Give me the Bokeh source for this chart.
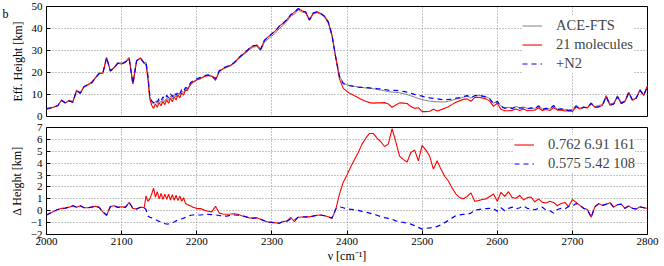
import numpy as np
from bokeh.plotting import figure
from bokeh.models import (ColumnDataSource, Legend, LegendItem, FixedTicker, Label,
                          CustomJSTickFormatter, Range1d)
from bokeh.layouts import column
from bokeh.embed import file_html
from bokeh.resources import INLINE

# ---------------- data ----------------
wavenumber = np.concatenate([np.arange(2000, 2130, 5.0),
                             np.arange(2130, 2200, 2.5),
                             np.arange(2200, 2801, 5.0)])

ace_fts = [
    3.2, 3.7, 4.3, 5.0, 7.6, 6.3, 7.4, 6.9, 12.0, 11.0, 13.8, 14.6, 15.6, 17.8, 19.8, 19.6,
    26.5, 21.0, 22.5, 24.5, 24.2, 25.0, 27.0, 15.0, 25.5, 26.8,
    24.5, 24.8, 18.0, 9.0, 6.5, 5.6, 6.8, 5.8, 7.4, 6.3, 7.9, 6.8, 8.5, 7.4, 9.2, 8.0,
    9.9, 8.8, 10.7, 9.7, 11.6, 10.8, 12.6, 12.4, 14.0, 15.2, 15.8, 16.3,
    16.8, 17.4, 18.2, 18.6, 18.3, 16.8, 20.4, 21.5, 22.3, 23.0, 24.2, 26.0, 27.5, 28.8, 30.3, 31.5,
    31.8, 29.8, 33.7, 35.2, 36.6, 38.0, 40.0, 41.5, 43.2, 45.5, 46.5, 48.5, 47.5, 47.0, 43.5, 46.6,
    47.2, 46.5, 45.2, 42.5, 36.5, 27.0, 18.5, 15.2,
    14.4, 14.0, 13.7, 13.4, 13.2, 13.0, 12.8, 12.6, 12.3, 12.0, 11.7, 11.3, 11.1, 11.0, 10.8, 10.4,
    10.0, 9.4, 8.8, 8.2,
    7.7, 7.3, 7.0, 6.8, 6.7, 6.6, 6.6, 6.9, 7.4, 7.9, 8.2, 8.8, 9.2, 8.4, 9.5, 9.6, 9.4, 9.0, 8.2, 6.0,
    6.8, 4.8, 3.8, 4.2, 3.9, 4.5, 4.0, 4.3, 3.7, 4.0, 3.6, 5.0, 3.4, 3.8, 3.5, 4.8, 3.3, 3.6, 3.2, 3.0,
    3.2, 5.2, 3.8, 4.4, 4.0, 5.5, 4.5, 5.0, 5.5, 9.6, 5.8, 6.0, 9.5, 6.5, 7.0, 11.2, 7.6, 8.5, 12.3,
    9.8, 14.0,
]

# Delta height = ACE-FTS - model
delta_21mol = [
    -0.36, -0.2, -0.05, 0.1, 0.2, 0.22, 0.3, 0.42, 0.3, 0.42, 0.25, 0.25, 0.3, 0.38, 0.28, -0.1,
    -0.38, 0.35, 0.42, 0.28, 0.33, 0.28, 0.7, 0.2, 0.14, 0.3,
    0.25, 1.25, 0.8, 1.0, 1.4, 1.9, 1.15, 1.6, 1.0, 1.45, 0.95, 1.4, 0.95, 1.4, 0.9, 1.35,
    0.88, 1.3, 0.85, 1.25, 0.8, 1.1, 0.6, 0.52, 0.45, 0.4, 0.28, 0.25,
    0.18, 0.18, 0.05, -0.05, -0.1, 0.38, -0.2, -0.28, -0.3, -0.28, -0.25, -0.3, -0.42, -0.5, -0.6,
    -0.62, -0.6, -0.72, -0.85, -0.95, -0.98, -1.02, -1.05, -0.9, -0.88, -0.55, -0.92, -0.55, -0.53,
    -0.52, -0.52, -0.45, -0.38, -0.36, -0.42, -0.5, -0.65, 0.1, 1.4, 2.4,
    3.0, 3.7, 4.3, 4.9, 5.6, 6.1, 6.5, 6.5, 6.1, 5.8, 5.4, 5.6, 6.9, 5.8, 4.6, 4.3, 4.1, 4.9, 5.1, 4.2,
    5.5, 5.1, 4.6, 3.5, 4.2, 3.5, 2.9, 2.5, 1.9, 1.4, 1.1, 1.0, 1.2, 1.5, 0.8, 0.85, 0.95, 1.0, 1.2, 1.4,
    0.8, 1.55, 1.2, 1.6, 1.1, 1.05, 1.3, 0.9, 1.1, 1.15, 0.75, 1.0, 0.7, 0.65, 0.8, 0.7, 0.42, 0.6,
    0.7, 0.35,
    0.95, 0.7, 0.45, 0.2, 0.1, -0.55, 0.33, 0.6, 0.45, 0.55, 0.68, 0.3, 0.5, 0.55, 0.2, 0.4, 0.2,
    0.15, 0.33, 0.25, 0.2,
]

delta_n2 = [
    -0.36, -0.2, -0.05, 0.1, 0.2, 0.22, 0.3, 0.42, 0.3, 0.42, 0.25, 0.25, 0.3, 0.38, 0.28, -0.1,
    -0.38, 0.35, 0.42, 0.28, 0.33, 0.28, 0.7, 0.2, 0.14, 0.3,
    0.25, 0.1, -0.45, -0.55, -0.6, -0.65, -0.75, -0.82, -0.9, -0.95, -1.0, -1.08, -1.12, -1.1,
    -1.05, -1.0, -0.95, -0.85, -0.78, -0.72, -0.68, -0.62, -0.55, -0.48, -0.42, -0.38, -0.36, -0.35,
    -0.36, -0.36, -0.33, -0.3, -0.32, -0.35, -0.4, -0.47, -0.45, -0.38, -0.36, -0.38, -0.44, -0.5,
    -0.6, -0.62, -0.6, -0.72, -0.85, -0.95, -0.98, -1.02, -1.05, -0.9, -0.88, -0.7, -0.8, -0.55,
    -0.53, -0.52, -0.52, -0.45, -0.38, -0.36, -0.42, -0.5, -0.62, 0.15, 0.33, 0.25,
    0.15, 0.12, 0.08, 0.03, -0.05, -0.12, -0.2, -0.28, -0.38, -0.5, -0.58, -0.65, -0.72, -0.85,
    -0.92, -0.98, -1.05, -1.13, -1.25, -1.4,
    -1.55, -1.48, -1.45, -1.42, -1.32, -1.2, -1.0, -0.82, -0.6, -0.42, -0.35, -0.3, -0.3, -0.2,
    0.05, 0.1, 0.15, 0.18, 0.2, 0.19,
    -0.05, 0.25, 0.0, 0.2, 0.3, 0.15, 0.25, 0.4, 0.2, 0.15, 0.08, 0.2, 0.3, 0.05, 0.0, -0.2, 0.1,
    0.2, 0.14, 0.35,
    0.4, 0.6, 0.45, 0.2, 0.1, -0.55, 0.33, 0.6, 0.45, 0.55, 0.68, 0.3, 0.5, 0.55, 0.2, 0.4, 0.2,
    0.15, 0.33, 0.25, 0.2,
]

series_names = ["ACE-FTS", "21 molecules", "+N2"]
stats_labels = ["0.762 6.91 161", "0.575 5.42 108"]
x_ticks = [2000, 2100, 2200, 2300, 2400, 2500, 2600, 2700, 2800]
top_y_ticks = [0, 10, 20, 30, 40, 50]
bot_y_ticks = [-2, -1, 0, 1, 2, 3, 4, 5, 6, 7]

assert len(wavenumber) == len(ace_fts) == len(delta_21mol) == len(delta_n2)

ace = np.array(ace_fts)
d21 = np.array(delta_21mol)
dn2 = np.array(delta_n2)
src = ColumnDataSource(dict(x=wavenumber, ace=ace, m21=ace - d21, mn2=ace - dn2,
                            d21=d21, dn2=dn2))

FONT = "Times New Roman"
GRAY, RED, BLUE = "#808080", "#ff0000", "#0000ff"

minus_fmt = "return tick < 0 ? '\\u2212' + Math.abs(tick) : String(tick);"


def style(p, yticks):
    p.outline_line_color = "black"
    p.outline_line_width = 1
    p.background_fill_color = "white"
    p.border_fill_color = "white"
    p.xaxis.ticker = FixedTicker(ticks=x_ticks)
    p.yaxis.ticker = FixedTicker(ticks=yticks)
    p.xgrid.ticker = FixedTicker(ticks=x_ticks)
    p.ygrid.ticker = FixedTicker(ticks=yticks)
    for g in (p.xgrid, p.ygrid):
        g.grid_line_color = "#8a8a8a"
        g.grid_line_dash = "1 2"
        g.grid_line_width = 1
    for ax in p.axis:
        ax.axis_line_color = None
        ax.major_tick_in = 4
        ax.major_tick_out = 0
        ax.major_tick_line_color = "black"
        ax.minor_tick_line_color = None
        ax.major_label_text_font = FONT
        ax.major_label_text_font_size = "11px"
        ax.major_label_text_color = "black"
        ax.major_label_standoff = 4
        ax.axis_label_text_font = FONT
        ax.axis_label_text_font_size = "12px"
        ax.axis_label_text_font_style = "normal"
        ax.axis_label_text_color = "black"
        ax.axis_label_standoff = 4
        ax.formatter = CustomJSTickFormatter(code=minus_fmt)


def legend_style(lg):
    lg.label_text_font = FONT
    lg.label_text_font_size = "14.5px"
    lg.glyph_width = 20
    lg.glyph_height = 19
    lg.label_height = 19
    lg.label_standoff = 14
    lg.spacing = 0
    lg.padding = 4
    lg.margin = 0
    lg.border_line_color = None
    lg.background_fill_color = "white"
    lg.background_fill_alpha = 1.0


# ---------------- top panel ----------------
p1 = figure(width=664, height=121, x_range=Range1d(2000, 2800), y_range=Range1d(0, 50),
            output_backend="svg", toolbar_location=None,
            min_border_left=46, min_border_right=17, min_border_top=6, min_border_bottom=5)
r_ace = p1.line("x", "ace", source=src, line_color=GRAY, line_width=1.0)
r_m21 = p1.line("x", "m21", source=src, line_color=RED, line_width=1.1)
r_mn2 = p1.line("x", "mn2", source=src, line_color=BLUE, line_width=1.2, line_dash="5 4")
style(p1, top_y_ticks)
p1.xaxis.visible = False
p1.yaxis.axis_label = "Eff. Height [km]"

lg1 = Legend(items=[LegendItem(label=series_names[0], renderers=[r_ace]),
                    LegendItem(label=series_names[1], renderers=[r_m21]),
                    LegendItem(label=series_names[2], renderers=[r_mn2])],
             location=(476, 43))
legend_style(lg1)
p1.add_layout(lg1)

# panel letter, in the left side panel (centre annotations are clipped to the frame)
p1.add_layout(Label(x=1, y=110, x_units="screen", y_units="screen", text="b",
                    text_baseline="top", text_align="left",
                    text_font=FONT, text_font_size="12px", text_color="black"), "left")

# ---------------- bottom panel ----------------
p2 = figure(width=664, height=144, x_range=p1.x_range, y_range=Range1d(-2, 7),
            output_backend="svg", toolbar_location=None,
            min_border_left=46, min_border_right=17, min_border_top=6, min_border_bottom=29)
r_d21 = p2.line("x", "d21", source=src, line_color=RED, line_width=1.1)
r_dn2 = p2.line("x", "dn2", source=src, line_color=BLUE, line_width=1.2, line_dash="5 4")
style(p2, bot_y_ticks)
p2.yaxis.axis_label = "\u0394 Height [km]"
p2.xaxis.axis_label = "\u03bd [cm\u207b\u00b9]"
p2.xaxis.major_label_standoff = 3
p2.xaxis.axis_label_standoff = 1

lg2 = Legend(items=[LegendItem(label=stats_labels[0], renderers=[r_d21]),
                    LegendItem(label=stats_labels[1], renderers=[r_dn2])],
             location=(468, 61))
legend_style(lg2)
p2.add_layout(lg2)

layout = column(p1, p2)
open("out.html", "w").write(file_html(layout, INLINE))
